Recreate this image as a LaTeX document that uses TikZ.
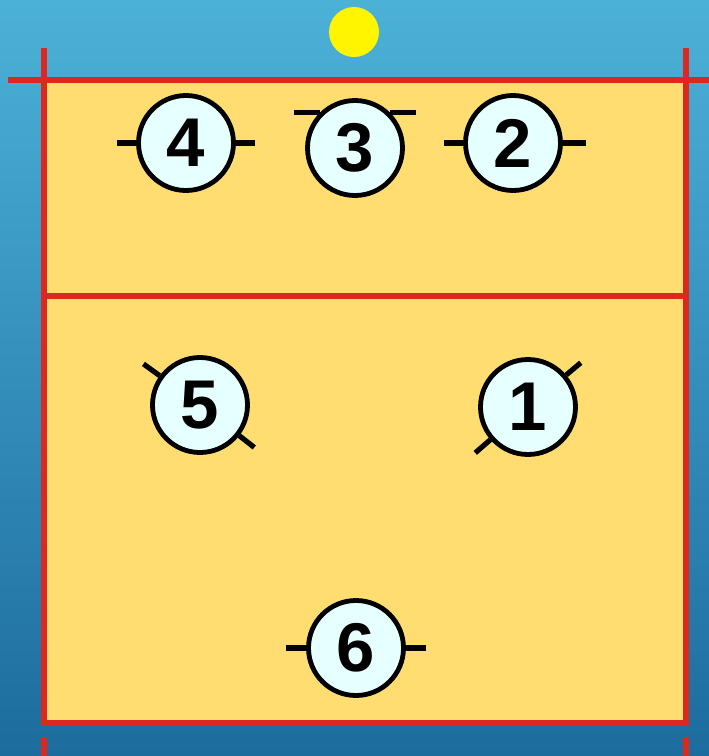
\documentclass[tikz,border=0pt]{standalone}
\usepackage{fontspec}
\setmainfont{Liberation Sans}
\begin{document}
\begin{tikzpicture}[x=1pt,y=-1pt,
  courtline/.style={draw=courtred,line width=5.5pt},
  player/.style={circle,draw=black,line width=4.8pt,fill=playerfill,
    minimum size=95pt,inner sep=0pt,
    font=\fontsize{69}{69}\selectfont\bfseries},
  tick/.style={draw=black,line width=5.2pt}]
\definecolor{courtred}{RGB}{220,40,30}
\definecolor{courtfill}{RGB}{255,221,112}
\definecolor{playerfill}{RGB}{230,255,255}
\definecolor{skytop}{RGB}{76,177,215}
\definecolor{skybottom}{RGB}{28,108,158}
\definecolor{ballyellow}{RGB}{255,245,0}

\useasboundingbox (0,0) rectangle (709,756);
\shade[top color=skytop,bottom color=skybottom,shading angle=0]
  (0,0) rectangle (709,756);

% court
\fill[courtfill] (44,80) rectangle (686,723);
\draw[courtline] (44,80) rectangle (686,723);
\draw[courtline] (44,296) -- (686,296);
% net and posts
\draw[courtline] (8,80) -- (709,80);
\draw[courtline] (44,48) -- (44,723);
\draw[courtline] (686,48) -- (686,723);
\draw[courtline] (44,737) -- (44,756);
\draw[courtline] (686,737) -- (686,756);

% ball
\fill[ballyellow] (354,32) circle[radius=25pt];

% players
\node[player] (p4) at (186,143) {4};
\node[player] (p3) at (355,148) {3};
\node[player] (p2) at (513,143) {2};
\node[player] (p5) at (200,405) {5};
\node[player] (p1) at (528,407) {1};
\node[player] (p6) at (356,648) {6};

% facing marks
\draw[tick] (p4.west) -- ++(-19pt,0pt);
\draw[tick] (p4.east) -- ++(19pt,0pt);
\draw[tick] (p3.134) -- ++(-26pt,0pt);
\draw[tick] (p3.46) -- ++(26pt,0pt);
\draw[tick] (p2.west) -- ++(-19pt,0pt);
\draw[tick] (p2.east) -- ++(23pt,0pt);
\draw[tick] (p5.144) -- ++(144:20pt);
\draw[tick] (p5.-38) -- ++(-38:19pt);
\draw[tick] (p1.40) -- ++(40:19pt);
\draw[tick] (p1.221) -- ++(221:20pt);
\draw[tick] (p6.west) -- ++(-20pt,0pt);
\draw[tick] (p6.east) -- ++(20pt,0pt);
\end{tikzpicture}
\end{document}
